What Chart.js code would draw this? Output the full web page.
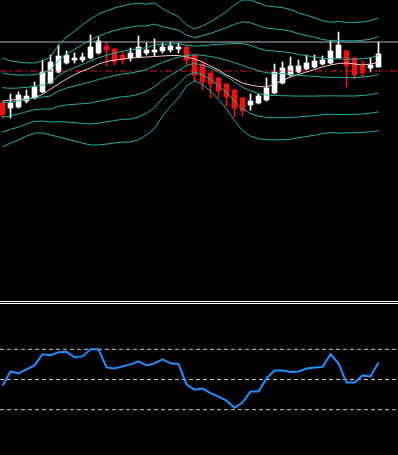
<!DOCTYPE html>
<html>
<head>
<meta charset="utf-8">
<script src="https://cdn.jsdelivr.net/npm/chart.js@4.4.1/dist/chart.umd.min.js"></script>
<style>
  html, body { margin: 0; padding: 0; background: #000; }
  body { width: 398px; height: 455px; position: relative; overflow: hidden; }
  #priceWrap { position: absolute; left: 0; top: 0; width: 398px; height: 300px; }
  #rsiWrap { position: absolute; left: 0; top: 304px; width: 398px; height: 151px; }
  .sep { position: absolute; left: 0; width: 398px; height: 1px; background: #fff; }
</style>
</head>
<body>
<div id="priceWrap"><canvas id="priceChart" width="398" height="300"></canvas></div>
<div class="sep" style="top:301px"></div>
<div class="sep" style="top:303px"></div>
<div id="rsiWrap"><canvas id="rsiChart" width="398" height="151"></canvas></div>
<script>
/* ===================================================
   K线 + 布林带 + RSI 副图
   =================================================== */

// 蜡烛数据（价格单位：点）
const opens  = [197,192,193,199,202,208,217,228,237,240,240,242,247,254,251,245,242,243,247,248,249,250,251,253,245,236,227,222,216,210,202,195,197,200,207,217,225,228,231,233,236,237,242,249,242,234,232,233];
const highs  = [199,206,208,210,218,240,245,255,249,247,247,265,263,258,252,248,252,264,257,261,257,258,257,254,246,238,228,223,217,211,203,206,206,222,236,238,243,240,245,245,244,259,268,250,243,239,242,258];
const lows   = [182,182,192,197,201,207,216,227,236,237,238,241,246,234,235,236,239,242,245,244,247,248,247,235,218,210,202,202,194,183,184,190,196,199,206,216,224,227,230,232,235,236,242,213,221,223,228,233];
const closes = [185,197,205,204,213,228,238,244,245,242,243,253,259,250,238,240,247,253,250,250,253,254,253,240,225,218,216,209,203,192,189,199,204,212,228,232,234,234,237,239,240,249,255,234,225,227,235,246];

// 布林带中轨与标准差（20 周期）
const bbMid = [197.5,198,199,200.5,202,203,204,209,212,214,216,218,220.5,222.5,224.5,226,227,228.5,230.5,234.2,237.6,240.4,242.8,244.6,245.2,244.7,243.6,241.9,239.8,237.3,234.6,231.9,229.1,227.2,226.7,226.3,225.7,224.7,224.1,223.5,222.9,222.6,222.7,222.4,222.4,222.9,223.8,225.7];
const bbDev = [14.8,13.7,13,12.2,11.7,12,13,15.3,17,18.3,19.7,21,21.8,22.2,22.5,22.7,23,22.8,21.8,20.9,17.9,15.6,13.5,10.2,8.6,9.8,11.5,13.8,16.2,19.2,21.8,22.7,22.6,22.3,22.2,22,21.6,20.8,20.2,19.6,18.8,18.4,18.6,18.4,18.4,18.4,18.5,18.8];
const bbLevels = [3, 2, 1, 0, -1, -2, -3];

// 均线（粉色）
const maLine = [199,200,200.5,201,202.5,205.5,211,216,221,225.5,229,232,236,238.5,240,241,242,242.5,243,243.5,244,244.5,244.5,243,241,238,234,230,225,221,217,215,213.5,213,216,219.5,223,225.5,228,230.5,233,235,236.5,237,236,235,236,237.5];

// 水平线
const askLevel = 258;
const hLineLevel = 229;

// RSI
const rsiValues = [46,55.3,54,56.7,59.3,66.7,66,68,68.3,64.7,65.3,70,70,58,57.3,58.7,60,62,59.3,60.7,63.3,60.7,60.3,46.7,43.3,44,41,38.7,36,31.3,34.7,42,42,50.7,56,56,55,55.3,57.3,58,58.3,66.7,60.7,48,48,52.7,52,61.3];
const rsiLevels = [70, 50, 30];

const X_MIN = -0.3125;
const X_MAX = 49.4375;

const UP = '#ffffff';
const DOWN = '#ee1111';
const BAND = '#20b2aa';

const isUp = closes.map((c, i) => c >= opens[i]);

function lineSet(points, color, extra) {
  return Object.assign({
    type: 'line',
    data: points,
    borderColor: color,
    borderWidth: 1,
    pointRadius: 0,
    tension: 0,
    fill: false,
    order: 0
  }, extra || {});
}

const priceDatasets = [
  {
    type: 'bar',
    data: highs.map((h, i) => ({ x: i, y: [lows[i], h] })),
    backgroundColor: isUp.map(u => u ? UP : DOWN),
    barThickness: 1,
    grouped: false,
    order: 3
  },
  {
    type: 'bar',
    data: opens.map((o, i) => ({ x: i, y: [o, closes[i]] })),
    backgroundColor: isUp.map(u => u ? UP : DOWN),
    barThickness: 5,
    grouped: false,
    order: 2
  }
];

bbLevels.forEach(k => {
  priceDatasets.push(lineSet(bbMid.map((m, i) => ({ x: i, y: m + k * bbDev[i] })), BAND));
});
priceDatasets.push(lineSet(maLine.map((v, i) => ({ x: i, y: v })), '#ffc8c8'));
priceDatasets.push(lineSet([{ x: X_MIN, y: askLevel }, { x: X_MAX, y: askLevel }], '#b4b4c4'));
priceDatasets.push(lineSet([{ x: X_MIN, y: hLineLevel }, { x: X_MAX, y: hLineLevel }], '#d81818', { borderDash: [7, 3, 2, 3] }));

const commonOptions = {
  responsive: false,
  animation: false,
  events: [],
  layout: { padding: 0 },
  plugins: { legend: { display: false }, tooltip: { enabled: false } }
};

new Chart(document.getElementById('priceChart').getContext('2d'), {
  type: 'bar',
  data: { datasets: priceDatasets },
  options: Object.assign({}, commonOptions, {
    scales: {
      x: { type: 'linear', display: false, min: X_MIN, max: X_MAX, offset: false },
      y: { display: false, min: 0, max: 300 }
    }
  })
});

// RSI 副图
const rsiDatasets = [
  lineSet(rsiValues.map((v, i) => ({ x: i, y: v })), '#1e90ff', { borderWidth: 2 })
];
rsiLevels.forEach(l => {
  rsiDatasets.push(lineSet([{ x: X_MIN, y: l }, { x: X_MAX, y: l }], '#c8c8c8', { borderDash: [4, 3], order: 1 }));
});

new Chart(document.getElementById('rsiChart').getContext('2d'), {
  type: 'line',
  data: { datasets: rsiDatasets },
  options: Object.assign({}, commonOptions, {
    scales: {
      x: { type: 'linear', display: false, min: X_MIN, max: X_MAX },
      y: { display: false, min: 0, max: 100 }
    }
  })
});
</script>
</body>
</html>
